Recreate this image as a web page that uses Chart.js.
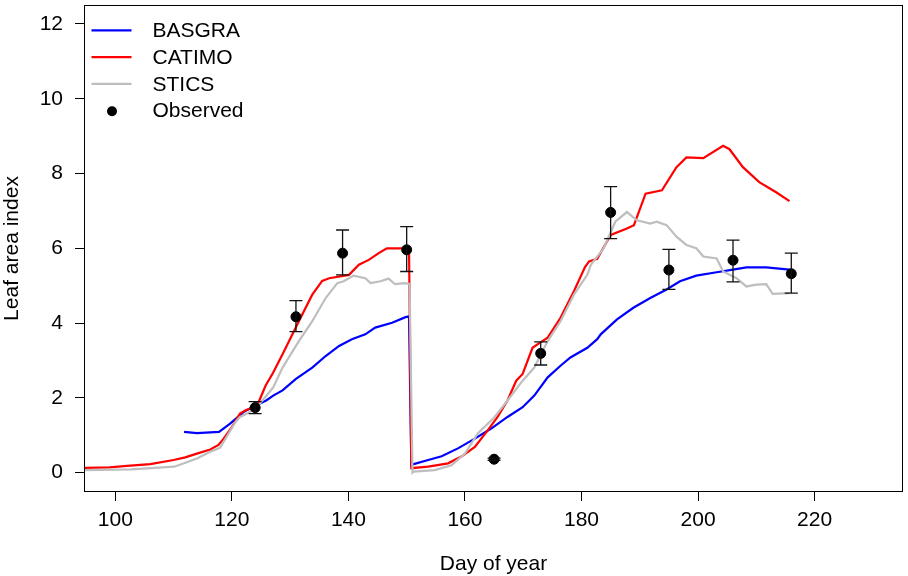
<!DOCTYPE html>
<html>
<head>
<meta charset="utf-8">
<script src="https://cdn.jsdelivr.net/npm/chart.js@4.4.1/dist/chart.umd.min.js"></script>
<style>
    body { margin: 0; background: #fff; }
    #wrap { width: 908px; height: 576px; }
</style>
</head>
<body>
<div id="wrap"><canvas id="laiChart" width="908" height="576"></canvas></div>
<script>
// Simulated leaf area index, [day of year, LAI]
const basgra = [
    [111.8, 1.09], [114, 1.06], [117.8, 1.09], [119.7, 1.31], [122, 1.62], [123.7, 1.77],
    [125.9, 1.93], [127.1, 2.06], [128.7, 2.20], [131, 2.51], [133.8, 2.81], [136.1, 3.12],
    [138.4, 3.39], [140.6, 3.57], [142.9, 3.70], [144.6, 3.88], [147.5, 4.01], [149.8, 4.16],
    [150.4, 4.18], [150.8, 0.20], [151.2, 0.23], [153.7, 0.34], [156, 0.44], [158.8, 0.65],
    [161.7, 0.91], [164.5, 1.18], [167.3, 1.49], [169.9, 1.75], [171.9, 2.06], [174.2, 2.55],
    [176.4, 2.86], [178.1, 3.08], [181, 3.34], [182.7, 3.57], [183.3, 3.70], [186.1, 4.10],
    [188.9, 4.41], [191.8, 4.67], [194.6, 4.90], [196.9, 5.12], [199.7, 5.27], [203.2, 5.36],
    [206, 5.43], [208.3, 5.49], [211.7, 5.49], [215.7, 5.43]
];

const catimo = [
    [94.8, 0.13], [99, 0.14], [102, 0.18], [106, 0.23], [110, 0.34], [112, 0.41], [114, 0.51],
    [116.3, 0.62], [117.7, 0.74], [118.6, 0.91], [120, 1.22], [121.4, 1.58], [122.3, 1.66],
    [123.7, 1.75], [124.6, 1.89], [125.8, 2.33], [127.1, 2.68], [128.7, 3.17], [131.5, 4.05],
    [133.8, 4.76], [135.5, 5.13], [136.7, 5.20], [140.1, 5.29], [141.8, 5.56], [143.5, 5.69],
    [145.2, 5.87], [146.6, 6.00], [149.7, 6.00], [150.4, 6.00], [150.8, 0.12], [153.7, 0.16],
    [157.1, 0.25], [159.4, 0.43], [161.7, 0.69], [163.9, 1.13], [165.6, 1.49], [167.3, 1.93],
    [168.8, 2.46], [169.9, 2.64], [171.6, 3.34], [172.5, 3.44], [174.2, 3.61], [176.4, 4.14],
    [178.7, 4.85], [180.6, 5.50], [181.3, 5.65], [182.7, 5.72], [185, 6.36], [187.8, 6.53],
    [189, 6.62], [191, 7.46], [193.8, 7.55], [196.3, 8.17], [198, 8.43], [200.9, 8.41],
    [204.3, 8.74], [205.4, 8.65], [207.7, 8.17], [210.5, 7.77], [213.4, 7.50], [215.7, 7.26]
];

const stics = [
    [94.8, 0.07], [102.7, 0.09], [106.1, 0.12], [110.1, 0.16], [111.8, 0.25], [114, 0.38],
    [116.3, 0.56], [118, 0.67], [119.1, 0.96], [120.6, 1.35], [121.4, 1.49], [122.6, 1.58],
    [124.3, 1.75], [127.1, 2.28], [128.7, 2.81], [131.5, 3.52], [133.8, 4.05], [136.1, 4.67],
    [138.1, 5.07], [139.2, 5.12], [140.9, 5.27], [142.9, 5.20], [143.8, 5.07], [145.5, 5.12],
    [146.9, 5.19], [148, 5.04], [149.7, 5.07], [150.5, 5.05], [151, 0.00], [151.2, 0.03],
    [154.8, 0.07], [157.7, 0.20], [160, 0.51], [162.2, 1.05], [165.1, 1.49], [167.3, 1.93],
    [169.9, 2.46], [171.9, 2.81], [174.2, 3.52], [176.4, 4.05], [178.7, 4.76], [181, 5.29],
    [181.6, 5.56], [183.8, 6.00], [185.8, 6.71], [187.8, 6.97], [189.5, 6.75], [191.8, 6.66],
    [192.9, 6.71], [194.6, 6.62], [196.3, 6.31], [198, 6.09], [199.7, 6.00], [200.9, 5.78],
    [203.2, 5.73], [204.3, 5.38], [206.6, 5.20], [208.3, 4.98], [210, 5.03], [211.7, 5.04],
    [212.8, 4.78], [215.7, 4.80]
];

// Observations with error bars
const obsDays = [124, 131, 139, 150, 165, 173, 185, 195, 206, 216];
const obsLai = [1.74, 4.17, 5.87, 5.96, 0.36, 3.19, 6.96, 5.42, 5.68, 5.32];
const obsLow = [1.58, 3.77, 5.29, 5.38, 0.33, 2.88, 6.26, 4.90, 5.10, 4.80];
const obsHigh = [1.90, 4.60, 6.49, 6.58, 0.39, 3.50, 7.65, 5.97, 6.22, 5.87];

const xTicks = [100, 120, 140, 160, 180, 200, 220];
const yTicks = [0, 2, 4, 6, 8, 10, 12];

const FONT = "'Liberation Sans', Arial, sans-serif";

const toPoints = arr => arr.map(p => ({x: p[0], y: p[1]}));

// error bars + plot frame
const errorBarPlugin = {
    id: 'errorBars',
    afterDatasetsDraw(chart) {
        const ctx = chart.ctx;
        const xs = chart.scales.x;
        const ys = chart.scales.y;
        ctx.save();
        ctx.strokeStyle = '#111';
        ctx.lineWidth = 1.3;
        obsDays.forEach((d, i) => {
            const px = xs.getPixelForValue(d);
            const top = ys.getPixelForValue(obsHigh[i]);
            const bot = ys.getPixelForValue(obsLow[i]);
            ctx.beginPath();
            ctx.moveTo(px, top); ctx.lineTo(px, bot);
            ctx.moveTo(px - 6.5, top); ctx.lineTo(px + 6.5, top);
            ctx.moveTo(px - 6.5, bot); ctx.lineTo(px + 6.5, bot);
            ctx.stroke();
        });
        const ca = chart.chartArea;
        ctx.strokeStyle = '#000';
        ctx.lineWidth = 1;
        ctx.strokeRect(ca.left - 0.5, ca.top - 0.5, ca.right - ca.left + 1, ca.bottom - ca.top + 1);
        ctx.restore();
    }
};

// legend in the top-left corner, R style
const legendPlugin = {
    id: 'rLegend',
    afterDraw(chart) {
        const ctx = chart.ctx;
        const items = [
            {label: 'BASGRA', color: '#0000FF'},
            {label: 'CATIMO', color: '#FF0000'},
            {label: 'STICS', color: '#BEBEBE'},
            {label: 'Observed', color: '#000', dot: true}
        ];
        ctx.save();
        ctx.font = '21px ' + FONT;
        ctx.textBaseline = 'middle';
        items.forEach((it, i) => {
            const y = 30.3 + i * 26.8;
            if (it.dot) {
                ctx.fillStyle = it.color;
                ctx.beginPath();
                ctx.arc(112, y + 0.5, 5, 0, Math.PI * 2);
                ctx.fill();
            } else {
                ctx.strokeStyle = it.color;
                ctx.lineWidth = 2.2;
                ctx.beginPath();
                ctx.moveTo(91.5, y);
                ctx.lineTo(131.5, y);
                ctx.stroke();
            }
            ctx.fillStyle = '#000';
            ctx.fillText(it.label, 152.5, y + 1);
        });
        ctx.restore();
    }
};

const ctx = document.getElementById('laiChart').getContext('2d');

new Chart(ctx, {
    type: 'scatter',
    data: {
        datasets: [
            {
                label: 'Observed',
                data: obsDays.map((d, i) => ({x: d, y: obsLai[i]})),
                backgroundColor: '#000',
                borderColor: '#000',
                pointRadius: 5,
                pointHoverRadius: 5,
                showLine: false,
                order: 0
            },
            {
                label: 'STICS',
                data: toPoints(stics),
                borderColor: '#BEBEBE',
                borderWidth: 2.2,
                pointRadius: 0,
                showLine: true,
                tension: 0,
                order: 1
            },
            {
                label: 'CATIMO',
                data: toPoints(catimo),
                borderColor: '#FF0000',
                borderWidth: 2.2,
                pointRadius: 0,
                showLine: true,
                tension: 0,
                order: 2
            },
            {
                label: 'BASGRA',
                data: toPoints(basgra),
                borderColor: '#0000FF',
                borderWidth: 2.2,
                pointRadius: 0,
                showLine: true,
                tension: 0,
                order: 3
            }
        ]
    },
    options: {
        responsive: false,
        animation: false,
        layout: {
            padding: {top: 3, right: 2, left: 0, bottom: 0}
        },
        plugins: {
            legend: {display: false},
            tooltip: {enabled: false}
        },
        scales: {
            x: {
                type: 'linear',
                min: 94.8,
                max: 235,
                afterBuildTicks: function(scale) {
                    scale.ticks = xTicks.map(v => ({value: v}));
                },
                afterFit: function(scale) {
                    scale.height = 85;
                    scale.paddingLeft = 0;
                    scale.paddingRight = 0;
                },
                grid: {
                    drawOnChartArea: false,
                    drawTicks: true,
                    tickLength: 10,
                    color: '#000',
                    lineWidth: 1
                },
                border: {display: false},
                ticks: {
                    color: '#000',
                    padding: 7,
                    maxRotation: 0,
                    autoSkip: false,
                    font: {family: FONT, size: 21}
                },
                title: {
                    display: true,
                    text: 'Day of year',
                    color: '#000',
                    padding: {top: 0, bottom: 0},
                    font: {family: FONT, size: 21, lineHeight: 1.1}
                }
            },
            y: {
                type: 'linear',
                min: -0.49,
                max: 12.48,
                afterBuildTicks: function(scale) {
                    scale.ticks = yTicks.map(v => ({value: v}));
                },
                afterFit: function(scale) {
                    scale.width = 85;
                    scale.paddingTop = 0;
                    scale.paddingBottom = 0;
                },
                grid: {
                    drawOnChartArea: false,
                    drawTicks: true,
                    tickLength: 10,
                    color: '#000',
                    lineWidth: 1
                },
                border: {display: false},
                ticks: {
                    color: '#000',
                    padding: 12,
                    autoSkip: false,
                    font: {family: FONT, size: 21}
                },
                title: {
                    display: true,
                    text: 'Leaf area index',
                    color: '#000',
                    padding: {top: 0, bottom: 0},
                    font: {family: FONT, size: 21, lineHeight: 1.2}
                }
            }
        }
    },
    plugins: [errorBarPlugin, legendPlugin]
});
</script>
</body>
</html>
